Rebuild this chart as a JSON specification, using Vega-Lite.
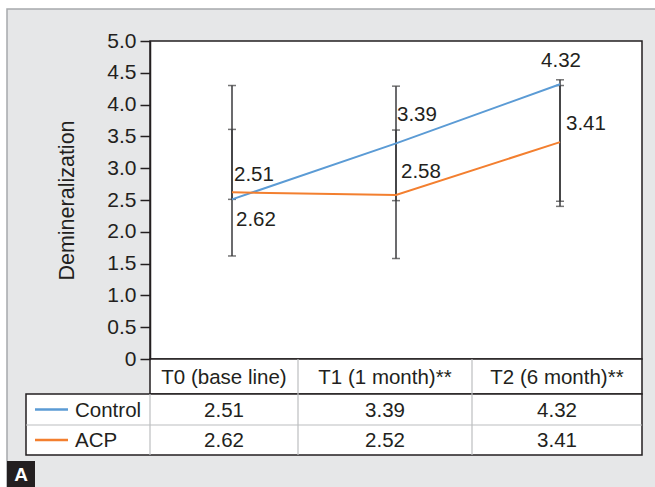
{
  "$schema": "https://vega.github.io/schema/vega-lite/v6.json",
  "autosize": {"type": "none"},
  "width": 492,
  "height": 318,
  "padding": {"left": 150, "top": 41, "right": 13, "bottom": 128},
  "background": "white",
  "config": {"font": "Liberation Sans", "view": {"stroke": null}},
  "datasets": {
    "points": [
      {"series": "Control", "time": "T0 (base line)", "value": 2.51, "low": 2.51, "high": 4.30},
      {"series": "Control", "time": "T1 (1 month)**", "value": 3.39, "low": 2.49, "high": 4.29},
      {"series": "Control", "time": "T2 (6 month)**", "value": 4.32, "low": 2.40, "high": 4.30},
      {"series": "ACP", "time": "T0 (base line)", "value": 2.62, "low": 1.62, "high": 3.61},
      {"series": "ACP", "time": "T1 (1 month)**", "value": 2.58, "low": 1.58, "high": 3.60},
      {"series": "ACP", "time": "T2 (6 month)**", "value": 3.41, "low": 2.48, "high": 4.39}
    ],
    "table": [
      {"r": 0, "c": 1, "label": "T0 (base line)"},
      {"r": 0, "c": 2, "label": "T1 (1 month)**"},
      {"r": 0, "c": 3, "label": "T2 (6 month)**"},
      {"r": 1, "c": 0, "label": "Control", "series": "Control"},
      {"r": 1, "c": 1, "label": "2.51"},
      {"r": 1, "c": 2, "label": "3.39"},
      {"r": 1, "c": 3, "label": "4.32"},
      {"r": 2, "c": 0, "label": "ACP", "series": "ACP"},
      {"r": 2, "c": 1, "label": "2.62"},
      {"r": 2, "c": 2, "label": "2.52"},
      {"r": 2, "c": 3, "label": "3.41"}
    ]
  },
  "layer": [
    {
      "data": {"values": [{"panel": "frame"}]},
      "mark": {"type": "rect", "fill": "#e6e7e8", "stroke": "#a7a9ac", "strokeWidth": 1.5},
      "encoding": {
        "x": {"field": "panel", "type": "nominal", "scale": {"type": "band", "domain": ["frame"], "range": [-143, 512], "paddingInner": 0, "paddingOuter": 0}, "axis": null},
        "y": {"field": "panel", "type": "nominal", "scale": {"type": "band", "domain": ["frame"], "range": [-32, 452], "paddingInner": 0, "paddingOuter": 0}, "axis": null}
      }
    },
    {
      "data": {"name": "points"},
      "layer": [
        {
          "data": {"values": [{}]},
          "mark": {"type": "rect", "fill": "white", "stroke": "#231f20", "strokeWidth": 1.5},
          "encoding": {
            "y": {"datum": 0, "type": "quantitative", "scale": {"domain": [0, 5], "nice": false, "zero": true}},
            "y2": {"datum": 5}
          }
        },
        {
          "mark": {"type": "rule", "color": "#3a3a3c", "strokeWidth": 1.5},
          "encoding": {
            "x": {"field": "time", "type": "nominal", "scale": {"type": "band", "domain": ["T0 (base line)", "T1 (1 month)**", "T2 (6 month)**"], "paddingInner": 0, "paddingOuter": 0}, "axis": null},
            "y": {
              "field": "low", "type": "quantitative",
              "scale": {"domain": [0, 5], "nice": false, "zero": true},
              "axis": {
                "title": "Demineralization",
                "values": [0, 0.5, 1, 1.5, 2, 2.5, 3, 3.5, 4, 4.5, 5],
                "tickCount": 12,
                "labelExpr": "datum.value === 0 ? '0' : format(datum.value, '.1f')",
                "labelOverlap": false,
                "grid": false,
                "domainColor": "#231f20", "domainWidth": 1.5,
                "tickColor": "#231f20", "tickSize": 10, "tickWidth": 1.5,
                "labelFontSize": 21, "labelColor": "#231f20", "labelPadding": 4,
                "titleFontSize": 21.5, "titleFontWeight": "normal", "titleColor": "#231f20", "titlePadding": 28,
                "zindex": 1
              }
            },
            "y2": {"field": "high"}
          }
        },
        {
          "transform": [{"fold": ["low", "high"], "as": ["end", "cap"]}],
          "mark": {"type": "tick", "color": "#3a3a3c", "size": 8, "thickness": 1.5},
          "encoding": {
            "x": {"field": "time", "type": "nominal", "axis": null},
            "y": {"field": "cap", "type": "quantitative"}
          }
        },
        {
          "mark": {"type": "line", "strokeWidth": 2},
          "encoding": {
            "x": {"field": "time", "type": "nominal", "axis": null},
            "y": {"field": "value", "type": "quantitative"},
            "color": {"field": "series", "type": "nominal", "scale": {"domain": ["Control", "ACP"], "range": ["#5b9bd5", "#f37f2f"]}, "legend": null}
          }
        },
        {
          "transform": [{"filter": "datum.series === 'Control' && datum.time === 'T0 (base line)'"}],
          "mark": {"type": "text", "fontSize": 20.5, "color": "#231f20", "align": "left", "baseline": "middle", "dx": 2, "dy": -24},
          "encoding": {"x": {"field": "time", "type": "nominal", "axis": null}, "y": {"field": "value", "type": "quantitative"}, "text": {"field": "value", "format": ".2f"}}
        },
        {
          "transform": [{"filter": "datum.series === 'ACP' && datum.time === 'T0 (base line)'"}],
          "mark": {"type": "text", "fontSize": 20.5, "color": "#231f20", "align": "left", "baseline": "middle", "dx": 4, "dy": 28},
          "encoding": {"x": {"field": "time", "type": "nominal", "axis": null}, "y": {"field": "value", "type": "quantitative"}, "text": {"field": "value", "format": ".2f"}}
        },
        {
          "transform": [{"filter": "datum.series === 'Control' && datum.time === 'T1 (1 month)**'"}],
          "mark": {"type": "text", "fontSize": 20.5, "color": "#231f20", "align": "left", "baseline": "middle", "dx": 1, "dy": -28},
          "encoding": {"x": {"field": "time", "type": "nominal", "axis": null}, "y": {"field": "value", "type": "quantitative"}, "text": {"field": "value", "format": ".2f"}}
        },
        {
          "transform": [{"filter": "datum.series === 'ACP' && datum.time === 'T1 (1 month)**'"}],
          "mark": {"type": "text", "fontSize": 20.5, "color": "#231f20", "align": "left", "baseline": "middle", "dx": 5, "dy": -23},
          "encoding": {"x": {"field": "time", "type": "nominal", "axis": null}, "y": {"field": "value", "type": "quantitative"}, "text": {"field": "value", "format": ".2f"}}
        },
        {
          "transform": [{"filter": "datum.series === 'Control' && datum.time === 'T2 (6 month)**'"}],
          "mark": {"type": "text", "fontSize": 20.5, "color": "#231f20", "align": "center", "baseline": "middle", "dx": 1, "dy": -23},
          "encoding": {"x": {"field": "time", "type": "nominal", "axis": null}, "y": {"field": "value", "type": "quantitative"}, "text": {"field": "value", "format": ".2f"}}
        },
        {
          "transform": [{"filter": "datum.series === 'ACP' && datum.time === 'T2 (6 month)**'"}],
          "mark": {"type": "text", "fontSize": 20.5, "color": "#231f20", "align": "left", "baseline": "middle", "dx": 6, "dy": -18},
          "encoding": {"x": {"field": "time", "type": "nominal", "axis": null}, "y": {"field": "value", "type": "quantitative"}, "text": {"field": "value", "format": ".2f"}}
        }
      ]
    },
    {
      "data": {"name": "table"},
      "layer": [
        {
          "data": {"values": [{}]},
          "mark": {"type": "rect", "fill": "white", "stroke": "#231f20", "strokeWidth": 1.5},
          "encoding": {
            "x": {"datum": 0.5, "type": "quantitative", "scale": {"type": "linear", "domain": [-0.5, 0, 0.5, 1, 1.5, 2, 2.5, 3, 3.5], "range": [-124, -62, 0, 74, 148, 235, 322, 407, 492], "nice": false, "zero": false}, "axis": null},
            "x2": {"datum": 3.5},
            "y": {"datum": -0.5, "type": "quantitative", "scale": {"type": "linear", "domain": [-0.5, 0, 0.5, 1, 1.5, 2, 2.5], "range": [318, 335.5, 353, 368.5, 384, 399, 414], "nice": false, "zero": false}, "axis": null},
            "y2": {"datum": 0.5}
          }
        },
        {
          "data": {"values": [{}]},
          "mark": {"type": "rect", "fill": "white", "stroke": "#231f20", "strokeWidth": 1.5},
          "encoding": {
            "x": {"datum": -0.5, "type": "quantitative", "scale": {"type": "linear", "domain": [-0.5, 0, 0.5, 1, 1.5, 2, 2.5, 3, 3.5], "range": [-124, -62, 0, 74, 148, 235, 322, 407, 492], "nice": false, "zero": false}, "axis": null},
            "x2": {"datum": 3.5},
            "y": {"datum": 0.5, "type": "quantitative", "scale": {"type": "linear", "domain": [-0.5, 0, 0.5, 1, 1.5, 2, 2.5], "range": [318, 335.5, 353, 368.5, 384, 399, 414], "nice": false, "zero": false}, "axis": null},
            "y2": {"datum": 2.5}
          }
        },
        {
          "data": {"values": [{}]},
          "mark": {"type": "rule", "color": "#bcbec0", "strokeWidth": 1.2},
          "encoding": {
            "x": {"datum": 1.5, "type": "quantitative", "scale": {"type": "linear", "domain": [-0.5, 0, 0.5, 1, 1.5, 2, 2.5, 3, 3.5], "range": [-124, -62, 0, 74, 148, 235, 322, 407, 492], "nice": false, "zero": false}, "axis": null},
            "y": {"datum": -0.5, "type": "quantitative", "scale": {"type": "linear", "domain": [-0.5, 0, 0.5, 1, 1.5, 2, 2.5], "range": [318, 335.5, 353, 368.5, 384, 399, 414], "nice": false, "zero": false}, "axis": null},
            "y2": {"datum": 2.5}
          }
        },
        {
          "data": {"values": [{}]},
          "mark": {"type": "rule", "color": "#bcbec0", "strokeWidth": 1.2},
          "encoding": {
            "x": {"datum": 2.5, "type": "quantitative", "scale": {"type": "linear", "domain": [-0.5, 0, 0.5, 1, 1.5, 2, 2.5, 3, 3.5], "range": [-124, -62, 0, 74, 148, 235, 322, 407, 492], "nice": false, "zero": false}, "axis": null},
            "y": {"datum": -0.5, "type": "quantitative", "scale": {"type": "linear", "domain": [-0.5, 0, 0.5, 1, 1.5, 2, 2.5], "range": [318, 335.5, 353, 368.5, 384, 399, 414], "nice": false, "zero": false}, "axis": null},
            "y2": {"datum": 2.5}
          }
        },
        {
          "data": {"values": [{}]},
          "mark": {"type": "rule", "color": "#bcbec0", "strokeWidth": 1.2},
          "encoding": {
            "x": {"datum": 0.5, "type": "quantitative", "scale": {"type": "linear", "domain": [-0.5, 0, 0.5, 1, 1.5, 2, 2.5, 3, 3.5], "range": [-124, -62, 0, 74, 148, 235, 322, 407, 492], "nice": false, "zero": false}, "axis": null},
            "y": {"datum": 0.5, "type": "quantitative", "scale": {"type": "linear", "domain": [-0.5, 0, 0.5, 1, 1.5, 2, 2.5], "range": [318, 335.5, 353, 368.5, 384, 399, 414], "nice": false, "zero": false}, "axis": null},
            "y2": {"datum": 2.5}
          }
        },
        {
          "data": {"values": [{}]},
          "mark": {"type": "rule", "color": "#bcbec0", "strokeWidth": 1.2},
          "encoding": {
            "x": {"datum": -0.5, "type": "quantitative", "scale": {"type": "linear", "domain": [-0.5, 0, 0.5, 1, 1.5, 2, 2.5, 3, 3.5], "range": [-124, -62, 0, 74, 148, 235, 322, 407, 492], "nice": false, "zero": false}, "axis": null},
            "x2": {"datum": 3.5},
            "y": {"datum": 1.5, "type": "quantitative", "scale": {"type": "linear", "domain": [-0.5, 0, 0.5, 1, 1.5, 2, 2.5], "range": [318, 335.5, 353, 368.5, 384, 399, 414], "nice": false, "zero": false}, "axis": null}
          }
        },
        {
          "transform": [{"filter": "datum.c === 0"}],
          "mark": {"type": "rule", "strokeWidth": 2.5, "xOffset": -53, "x2Offset": -20},
          "encoding": {
            "x": {"datum": 0, "type": "quantitative", "scale": {"type": "linear", "domain": [-0.5, 0, 0.5, 1, 1.5, 2, 2.5, 3, 3.5], "range": [-124, -62, 0, 74, 148, 235, 322, 407, 492], "nice": false, "zero": false}, "axis": null},
            "x2": {"datum": 0},
            "y": {"field": "r", "type": "quantitative", "scale": {"type": "linear", "domain": [-0.5, 0, 0.5, 1, 1.5, 2, 2.5], "range": [318, 335.5, 353, 368.5, 384, 399, 414], "nice": false, "zero": false}, "axis": null},
            "color": {"field": "series", "type": "nominal", "scale": {"domain": ["Control", "ACP"], "range": ["#5b9bd5", "#f37f2f"]}, "legend": null}
          }
        },
        {
          "transform": [{"filter": "datum.c >= 1"}],
          "mark": {"type": "text", "fontSize": 20.5, "color": "#231f20", "align": "center", "baseline": "middle", "dy": 1},
          "encoding": {
            "x": {"field": "c", "type": "quantitative", "scale": {"type": "linear", "domain": [-0.5, 0, 0.5, 1, 1.5, 2, 2.5, 3, 3.5], "range": [-124, -62, 0, 74, 148, 235, 322, 407, 492], "nice": false, "zero": false}, "axis": null},
            "y": {"field": "r", "type": "quantitative", "scale": {"type": "linear", "domain": [-0.5, 0, 0.5, 1, 1.5, 2, 2.5], "range": [318, 335.5, 353, 368.5, 384, 399, 414], "nice": false, "zero": false}, "axis": null},
            "text": {"field": "label"}
          }
        },
        {
          "transform": [{"filter": "datum.c === 0"}],
          "mark": {"type": "text", "fontSize": 20.5, "color": "#231f20", "align": "left", "baseline": "middle", "dx": -13, "dy": 1},
          "encoding": {
            "x": {"field": "c", "type": "quantitative", "scale": {"type": "linear", "domain": [-0.5, 0, 0.5, 1, 1.5, 2, 2.5, 3, 3.5], "range": [-124, -62, 0, 74, 148, 235, 322, 407, 492], "nice": false, "zero": false}, "axis": null},
            "y": {"field": "r", "type": "quantitative", "scale": {"type": "linear", "domain": [-0.5, 0, 0.5, 1, 1.5, 2, 2.5], "range": [318, 335.5, 353, 368.5, 384, 399, 414], "nice": false, "zero": false}, "axis": null},
            "text": {"field": "label"}
          }
        }
      ]
    },
    {
      "data": {"values": [{"panel": "A"}]},
      "encoding": {
        "x": {"field": "panel", "type": "nominal", "scale": {"type": "band", "domain": ["A"], "range": [-143, -115], "paddingInner": 0, "paddingOuter": 0}, "axis": null},
        "y": {"field": "panel", "type": "nominal", "scale": {"type": "band", "domain": ["A"], "range": [420, 446], "paddingInner": 0, "paddingOuter": 0}, "axis": null}
      },
      "layer": [
        {"mark": {"type": "rect", "fill": "#231f20"}},
        {"mark": {"type": "text", "color": "white", "fontSize": 19, "fontWeight": "bold", "baseline": "middle", "align": "center", "dy": 1}, "encoding": {"text": {"field": "panel"}}}
      ]
    }
  ],
  "resolve": {
    "scale": {"x": "independent", "y": "independent"},
    "axis": {"x": "independent", "y": "independent"}
  }
}
